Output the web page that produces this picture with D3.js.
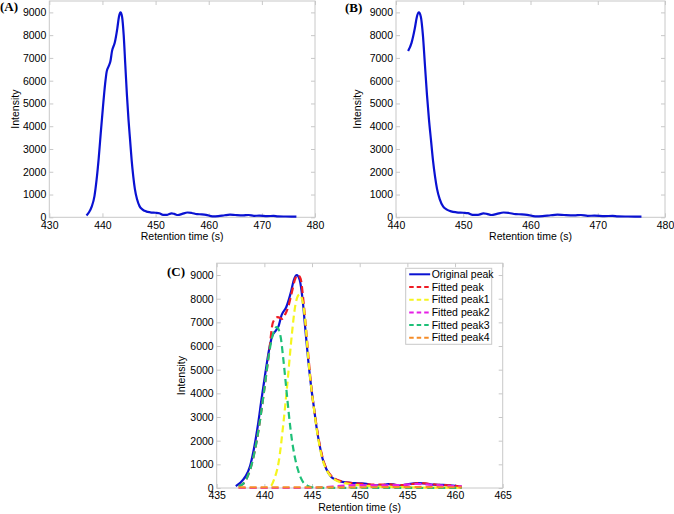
<!DOCTYPE html>
<html>
<head>
<meta charset="utf-8">
<script src="https://cdn.jsdelivr.net/npm/d3@7"></script>
<style>
  body { margin: 0; background: #fff; }
  svg { display: block; font-family: "Liberation Sans", Arial, sans-serif; }
</style>
</head>
<body>
<div id="chart"></div>
<script>
// retention time (s), intensity
const originalPeak = [
  [437.0, 80], [437.5, 230], [438.0, 480], [438.5, 930], [438.9, 1650], [439.3, 2600],
  [439.7, 3750], [440.1, 4850], [440.5, 5850], [440.8, 6400], [441.2, 6650], [441.5, 6850],
  [441.8, 7300], [442.3, 7650], [442.8, 8300], [443.1, 8800], [443.4, 9000], [443.7, 8800],
  [444.0, 8000], [444.3, 6700], [444.6, 5400], [444.9, 4300], [445.2, 3400], [445.5, 2500],
  [445.8, 1800], [446.1, 1250], [446.5, 800], [447.0, 480], [447.5, 350], [448.2, 260],
  [449.0, 220], [450.0, 200], [450.7, 180], [451.4, 110], [452.2, 110], [453.0, 170],
  [453.5, 150], [454.2, 100], [455.0, 150], [456.0, 210], [456.8, 190], [457.8, 140],
  [458.7, 130], [459.5, 110], [460.7, 40], [461.8, 50], [463.0, 90], [464.0, 115],
  [465.0, 100], [466.5, 85], [467.5, 100], [468.5, 65], [469.5, 70], [471.0, 55],
  [472.2, 60], [473.0, 40], [474.5, 35], [476.5, 30]
];
const fittedPeak = [
  [437.3, 80], [437.7, 150], [438.2, 450], [438.7, 1050], [439.2, 2000], [439.7, 3300],
  [440.1, 4500], [440.5, 5750], [440.9, 7000], [441.4, 7220], [441.9, 7150], [442.2, 7350],
  [442.5, 7650], [442.9, 8300], [443.2, 8800], [443.5, 9000], [443.8, 8850], [444.1, 7900],
  [444.4, 6600], [444.7, 5200], [445.0, 4000], [445.3, 3100], [445.6, 2300], [445.9, 1650],
  [446.2, 1150], [446.6, 750], [447.1, 480], [447.6, 350], [448.3, 260], [449.2, 210],
  [450.2, 180], [451.5, 140], [453.0, 150], [454.3, 120], [455.5, 170], [456.3, 210],
  [457.2, 180], [458.5, 130], [459.5, 110], [460.7, 60]
];
const fittedPeak1 = [
  [437.3, 0], [440.0, 0], [440.5, 40], [440.8, 150], [441.0, 340], [441.5, 1100],
  [442.0, 2750], [442.35, 4150], [442.9, 6550], [443.2, 7600], [443.5, 8100], [443.7, 8180],
  [444.0, 7900], [444.3, 7000], [444.6, 5500], [444.9, 4300], [445.2, 3350], [445.5, 2450],
  [445.8, 1750], [446.1, 1200], [446.5, 780], [447.0, 480], [447.5, 330], [448.2, 220],
  [449.0, 160], [450.0, 110], [452.0, 60], [455.0, 30], [460.7, 10]
];
const fittedPeak2 = [
  [437.3, 0], [445.0, 0], [446.5, 40], [448.0, 90], [450.0, 120], [452.0, 110],
  [454.0, 120], [456.0, 170], [458.0, 120], [460.7, 70]
];
const fittedPeak3 = [
  [437.3, 80], [437.7, 150], [438.2, 450], [438.7, 1050], [439.2, 2000], [439.7, 3300],
  [440.1, 4500], [440.5, 5700], [440.9, 6500], [441.3, 6800], [441.7, 6400], [442.0, 5400],
  [442.3, 4200], [442.6, 3000], [442.9, 2000], [443.2, 1300], [443.5, 800], [443.8, 450],
  [444.1, 230], [444.5, 100], [445.0, 30], [446.0, 10], [447.0, 5], [460.7, 0]
];
const fittedPeak4 = [
  [437.3, 25], [445.0, 25], [450.0, 30], [455.0, 35], [460.7, 30]
];

const intensityTicks = [0, 1000, 2000, 3000, 4000, 5000, 6000, 7000, 8000, 9000];
const timeTicksA = [430, 440, 450, 460, 470, 480];
const timeTicksB = [440, 450, 460, 470, 480];
const timeTicksC = [435, 440, 445, 450, 455, 460, 465];
const legendLabels = ["Original peak", "Fitted peak", "Fitted peak1", "Fitted peak2", "Fitted peak3", "Fitted peak4"];

const width = 674, height = 514;
const boxColor = "#c8c8c8";
const svg = d3.select("#chart").append("svg")
  .attr("width", width).attr("height", height);

// one MATLAB-like axes box with inward ticks
const drawPanel = (p) => {
  const x = d3.scaleLinear().domain(p.xDomain).range([p.left, p.right]);
  const y = d3.scaleLinear().domain([0, 9500]).range([p.bottom, p.top]);
  const g = svg.append("g");

  g.append("rect")
    .attr("x", p.left).attr("y", p.top)
    .attr("width", p.right - p.left).attr("height", p.bottom - p.top)
    .attr("fill", "none").attr("stroke", boxColor);

  const styleAxis = a => {
    a.select(".domain").remove();
    a.selectAll(".tick line").attr("stroke", boxColor);
    a.selectAll("text").attr("fill", "#000").style("font-size", "10.5px");
  };
  g.append("g").attr("transform", `translate(0,${p.bottom})`)
    .call(d3.axisBottom(x).tickValues(p.xTicks).tickSizeInner(-4).tickSizeOuter(0).tickPadding(4).tickFormat(d3.format("d")))
    .call(styleAxis);
  g.append("g").attr("transform", `translate(0,${p.top})`)
    .call(d3.axisTop(x).tickValues(p.xTicks).tickSizeInner(-4).tickSizeOuter(0).tickFormat(""))
    .call(styleAxis);
  g.append("g").attr("transform", `translate(${p.left},0)`)
    .call(d3.axisLeft(y).tickValues(intensityTicks).tickSizeInner(-4).tickSizeOuter(0).tickPadding(3).tickFormat(d3.format("d")))
    .call(styleAxis);
  g.append("g").attr("transform", `translate(${p.right},0)`)
    .call(d3.axisRight(y).tickValues(intensityTicks).tickSizeInner(-4).tickSizeOuter(0).tickFormat(""))
    .call(styleAxis);

  g.append("text")
    .attr("x", (p.left + p.right) / 2).attr("y", p.bottom + 23)
    .attr("text-anchor", "middle").style("font-size", "10.5px")
    .text("Retention time (s)");
  g.append("text")
    .attr("transform", `translate(${p.ylabelX},${(p.top + p.bottom) / 2}) rotate(-90)`)
    .attr("text-anchor", "middle").style("font-size", "10.5px")
    .text("Intensity");
  g.append("text")
    .attr("x", p.tagX).attr("y", p.tagY)
    .style("font-family", "'Liberation Serif', 'Times New Roman', serif")
    .style("font-weight", "bold").style("font-size", "13px")
    .text(p.tag);

  const line = d3.line().x(d => x(d[0])).y(d => y(d[1])).curve(d3.curveMonotoneX);
  p.series.forEach(s => {
    g.append("path")
      .datum(s.data)
      .attr("d", line)
      .attr("fill", "none")
      .attr("stroke", s.color)
      .attr("stroke-width", 2.2)
      .attr("stroke-dasharray", s.dash || null)
      .attr("stroke-linejoin", "round");
  });
  return { x, y, g };
};

const blue = "#0a12d2", red = "#ee1c24", yellow = "#f5f51e",
      magenta = "#e61ee6", green = "#1ec078", orange = "#f58c28";
const dash = "7,4";

drawPanel({
  tag: "(A)", tagX: 0, tagY: 11, ylabelX: 19,
  left: 49.3, right: 315, top: 1, bottom: 217.3,
  xDomain: [430, 480], xTicks: timeTicksA,
  series: [{ data: originalPeak, color: blue }]
});

drawPanel({
  tag: "(B)", tagX: 345, tagY: 12, ylabelX: 361,
  left: 396, right: 665, top: 1, bottom: 217.3,
  xDomain: [440, 480], xTicks: timeTicksB,
  series: [{ data: originalPeak.filter(d => d[0] >= 441.8), color: blue }]
});

const seriesC = [
  { data: originalPeak.filter(d => d[0] <= 460.7), color: blue },
  { data: fittedPeak, color: red, dash },
  { data: fittedPeak1, color: yellow, dash },
  { data: fittedPeak2, color: magenta, dash },
  { data: fittedPeak3, color: green, dash },
  { data: fittedPeak4, color: orange, dash }
];
drawPanel({
  tag: "(C)", tagX: 167, tagY: 276, ylabelX: 185,
  left: 216.7, right: 502.7, top: 263.2, bottom: 488,
  xDomain: [435, 465], xTicks: timeTicksC,
  series: seriesC
});

// legend
const legend = svg.append("g").attr("transform", "translate(405.7,268.3)");
legend.append("rect")
  .attr("width", 86).attr("height", 76)
  .attr("fill", "#fff").attr("stroke", boxColor);
legend.selectAll("g.item")
  .data(legendLabels)
  .enter().append("g")
  .attr("class", "item")
  .attr("transform", (d, i) => `translate(0,${6 + i * 12.7})`)
  .each(function (d, i) {
    const item = d3.select(this);
    item.append("line")
      .attr("x1", 3.5).attr("x2", 24.5).attr("y1", 0).attr("y2", 0)
      .attr("stroke", seriesC[i].color).attr("stroke-width", 2)
      .attr("stroke-dasharray", seriesC[i].dash ? "4.5,3" : null);
    item.append("text")
      .attr("x", 26).attr("y", 0).attr("dy", "0.35em")
      .style("font-size", "10.5px")
      .text(d);
  });
</script>
</body>
</html>
